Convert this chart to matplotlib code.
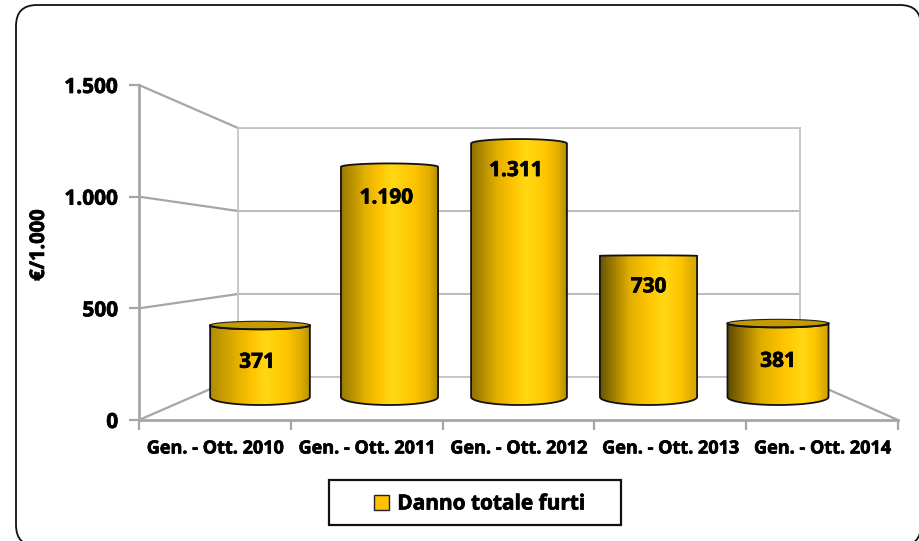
import numpy as np
import matplotlib
matplotlib.use('Agg')
import matplotlib.pyplot as plt
import matplotlib.patheffects as pe
from matplotlib.colors import LinearSegmentedColormap
from matplotlib.patches import ConnectionPatch, FancyBboxPatch, Patch, PathPatch, Rectangle
from matplotlib.path import Path

categories = ["Gen. - Ott. 2010", "Gen. - Ott. 2011", "Gen. - Ott. 2012",
              "Gen. - Ott. 2013", "Gen. - Ott. 2014"]
values = [371, 1190, 1311, 730, 381]
value_labels = ["371", "1.190", "1.311", "730", "381"]
y_ticks = [0, 500, 1000, 1500]
y_tick_labels = ["0", "500", "1.000", "1.500"]
series_name = "Danno totale furti"
y_title = "€/1.000"

W, H = 919, 541
plt.rcParams['font.family'] = ['Open Sans', 'DejaVu Sans']
plt.rcParams['font.weight'] = 'bold'
fig = plt.figure(figsize=(W / 100, H / 100), dpi=100, facecolor='white')
heavy = [pe.withStroke(linewidth=0.5, foreground='black')]


def px_axes(x0, y0, x1, y1, **kw):
    # axes from pixel box, y measured from the top of the image
    return fig.add_axes([x0 / W, 1 - y1 / H, (x1 - x0) / W, (y1 - y0) / H], **kw)


# outer rounded frame, runs slightly off the image on the right and bottom
bg = px_axes(0, 0, W, H, zorder=0)
bg.set_xlim(0, W)
bg.set_ylim(H, 0)
bg.axis('off')
bg.add_patch(FancyBboxPatch((16, 5), 905, 541, boxstyle="round,pad=0,rounding_size=21",
                            fc='white', ec='#111111', lw=1.3))
bg.add_patch(Rectangle((329, 480), 292, 45, fc='white', ec='#111111', lw=1.6))

# back wall
back = px_axes(238, 128, 800, 377, zorder=1)
back.set_xlim(0, 1)
back.set_ylim(0, 1500)
back.set_xticks([])
back.set_yticks(y_ticks)
back.tick_params(left=False, labelleft=False)
back.grid(axis='y', color='#B5B5B5', lw=1.3)
back.patch.set_alpha(0)
for s in back.spines.values():
    s.set_color('#C4C4C4')
    s.set_linewidth(1.3)

# front axes with ticks and labels
front = px_axes(139, 85, 898, 420, zorder=1.5)
front.patch.set_alpha(0)
front.set_xlim(0, 5)
front.set_ylim(0, 1500)
front.set_yticks(y_ticks)
front.set_yticklabels(y_tick_labels, fontsize=15, path_effects=heavy)
front.set_xticks(range(6))
front.set_xticklabels([])
front.set_xticks(np.arange(5) + 0.5, categories, minor=True, fontsize=13, path_effects=heavy)
front.tick_params(axis='x', which='minor', length=0, pad=14)
front.tick_params(axis='both', which='major', color='#A6A6A6', width=1.6, length=7)
front.tick_params(axis='y', pad=8)
front.spines['top'].set_visible(False)
front.spines['right'].set_visible(False)
front.spines['left'].set_color('#A6A6A6')
front.spines['bottom'].set_color('#A6A6A6')
front.spines['left'].set_linewidth(2)
front.spines['bottom'].set_linewidth(2)
front.set_ylabel(y_title, fontsize=14.5, fontweight='bold', path_effects=heavy)
front.yaxis.set_label_coords((49 - 139) / 759, (420 - 245) / 335)

# side walls and floor, front scale to back scale
for v in y_ticks:
    back.add_artist(ConnectionPatch((0, v), (0, v), coordsA=front.transData, coordsB=back.transData,
                                    arrowstyle='-', color='#A6A6A6', lw=1.6, clip_on=False))
back.add_artist(ConnectionPatch((5, 0), (1, 0), coordsA=front.transData, coordsB=back.transData,
                                arrowstyle='-', color='#A6A6A6', lw=1.6, clip_on=False))

# bars, on their own plane between front and back scale
px_unit = 1500 / 290  # value units per pixel on the bar plane
bar_ax = px_axes(195.25, 107, 842.75, 397 + 100 / px_unit, zorder=2)
bar_ax.set_xlim(-0.5, 4.5)
bar_ax.set_ylim(-100, 1500)
bar_ax.axis('off')

widths = [0.77, 0.75, 0.74, 0.75, 0.78]
bars = bar_ax.bar(range(5), values, width=widths, color='none')

top_ry = [4, 3.5, 4.5, 0.5, 4]
has_lid = [True, False, False, False, True]
left_col = ['#B08C00', '#987800', '#8E7000', '#6A5400', '#5E4A00']
right_col = ['#B89200', '#B08C00', '#B08C00', '#D8A800', '#D0A000']
peak = [0.56, 0.52, 0.58, 0.66, 0.74]
label_drop = [37, 31, 27, 31, 38]
label_dx = [-3, -3, -3, 0, 0]
bottom_ry = 8 * px_unit

for i, b in enumerate(bars):
    x0, w, v = b.get_x(), b.get_width(), b.get_height()
    cx = x0 + w / 2
    t = np.linspace(np.pi, 2 * np.pi, 60)
    ax_x = cx + w / 2 * np.cos(t)
    ry = top_ry[i] * px_unit
    # bottom arc, bulging down
    low = np.column_stack([ax_x, bottom_ry * np.sin(t)])
    # top edge of the side surface
    sign = 1 if has_lid[i] else -1
    up = np.column_stack([ax_x[::-1], v + sign * ry * np.sin(t[::-1])])
    verts = np.vstack([low, up, low[:1]])
    codes = [Path.MOVETO] + [Path.LINETO] * (len(verts) - 2) + [Path.CLOSEPOLY]
    side = PathPatch(Path(verts, codes), fc='none', ec='#111111', lw=1.3, zorder=3)
    bar_ax.add_patch(side)

    h = peak[i]
    cmap = LinearSegmentedColormap.from_list('c', [(0, left_col[i]), (h * 0.45, '#E0AE00'),
                                                   (h * 0.75, '#FFC400'), (h, '#FFD814'),
                                                   (h + (1 - h) * 0.5, '#FFC400'),
                                                   (h + (1 - h) * 0.8, '#E0AE00'), (1, right_col[i])])
    im = bar_ax.imshow(np.linspace(0, 1, 200)[None, :], cmap=cmap, aspect='auto', zorder=2.5,
                       extent=(x0, x0 + w, -bottom_ry, v + ry))
    im.set_clip_path(side)

    if has_lid[i]:
        lid_t = np.linspace(0, 2 * np.pi, 120)
        bar_ax.fill(cx + w / 2 * np.cos(lid_t), v + ry * np.sin(lid_t), fc='#C49A00', ec='#222222',
                    lw=0.8, zorder=3.2)
        bar_ax.plot(ax_x, v + ry * np.sin(t), color='#111111', lw=1.4, zorder=3.3)

    bar_ax.annotate(value_labels[i], (cx, v), xytext=(label_dx[i] * 0.72, -label_drop[i] * 0.72),
                    textcoords='offset points', ha='center', va='center', fontsize=15,
                    color='black', zorder=5, path_effects=heavy)

bar_ax.set_xlim(-0.5, 4.5)
bar_ax.set_ylim(-100, 1500)

# legend, frame drawn on bg so its box can be wider than the entries
handle = Patch(fc='#FFC000', ec='#222222', lw=1)
leg = bar_ax.legend([handle], [series_name], loc='center', bbox_to_anchor=(480 / W, 1 - 504 / H),
                    bbox_transform=fig.transFigure, fontsize=15, frameon=False,
                    handlelength=0.7, handleheight=0.7, handletextpad=0.4,
                    borderpad=0, borderaxespad=0)
leg.get_texts()[0].set_path_effects(heavy)

fig.savefig('out.png', dpi=100)
